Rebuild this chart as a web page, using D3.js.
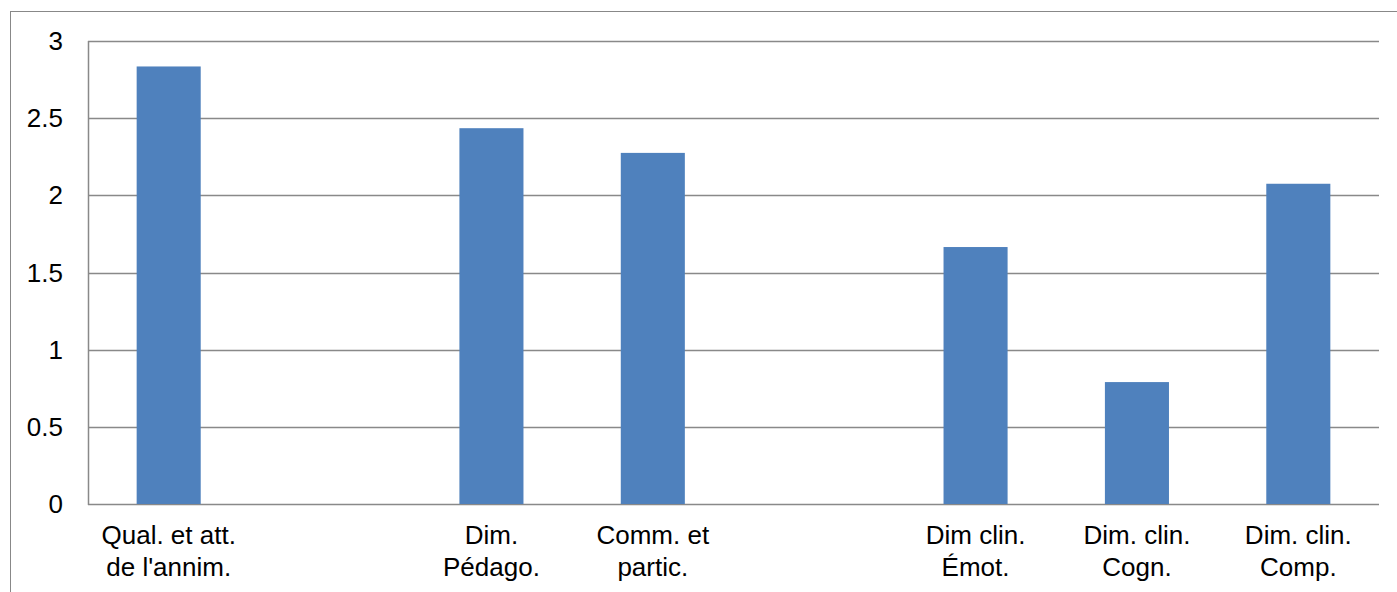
<!DOCTYPE html>
<html><head><meta charset="utf-8">
<script src="https://cdn.jsdelivr.net/npm/d3@7"></script>
<style>body{margin:0;background:#fff}svg{display:block}text{font-family:"Liberation Sans",Arial,sans-serif;fill:#000}</style>
</head><body>
<svg id="c" width="1397" height="592"></svg>
<script>
const categories = [["Qual. et att.","de l'annim."],["",""],["Dim.","Pédago."],["Comm. et","partic."],["",""],["Dim clin.","Émot."],["Dim. clin.","Cogn."],["Dim. clin.","Comp."]];
const values = [2.835, null, 2.435, 2.275, null, 1.665, 0.79, 2.075];
const yTicks = [0, 0.5, 1, 1.5, 2, 2.5, 3];

const svg = d3.select("#c");
const L = 88, R = 1379, T = 41, B = 504;
svg.append("rect").attr("x",10.5).attr("y",11.5).attr("width",1400).attr("height",600)
  .attr("fill","none").attr("stroke","#888").attr("stroke-width",1);

const x = d3.scaleBand().domain(d3.range(categories.length)).range([L,R]).paddingInner(0.603).paddingOuter(0.3015);
const y = d3.scaleLinear().domain([0,3]).range([B,T]);

const grid = svg.append("g");
grid.selectAll("line").data(yTicks).join("line")
  .attr("x1",L).attr("x2",R).attr("y1",d=>Math.round(y(d))+0.5).attr("y2",d=>Math.round(y(d))+0.5)
  .attr("stroke","#898989").attr("stroke-width",1.5);
svg.append("line").attr("x1",L+0.5).attr("x2",L+0.5).attr("y1",T).attr("y2",B+1)
  .attr("stroke","#898989").attr("stroke-width",1.5);

svg.append("g").selectAll("rect").data(values.map((v,i)=>({v,i})).filter(d=>d.v!=null)).join("rect")
  .attr("x",d=>x(d.i)).attr("width",x.bandwidth())
  .attr("y",d=>y(d.v)).attr("height",d=>B-y(d.v))
  .attr("fill","#4F81BD");

svg.append("g").selectAll("text").data(yTicks).join("text")
  .attr("x",63).attr("y",d=>y(d)+9).attr("text-anchor","end")
  .attr("font-size",26).text(d=>d);

const lab = svg.append("g").selectAll("g").data(categories).join("g")
  .attr("transform",(d,i)=>`translate(${x(i)+x.bandwidth()/2},0)`);
lab.append("text").attr("y",544).attr("text-anchor","middle").attr("font-size",26).text(d=>d[0]);
lab.append("text").attr("y",576).attr("text-anchor","middle").attr("font-size",26).text(d=>d[1]);
</script>
</body></html>
